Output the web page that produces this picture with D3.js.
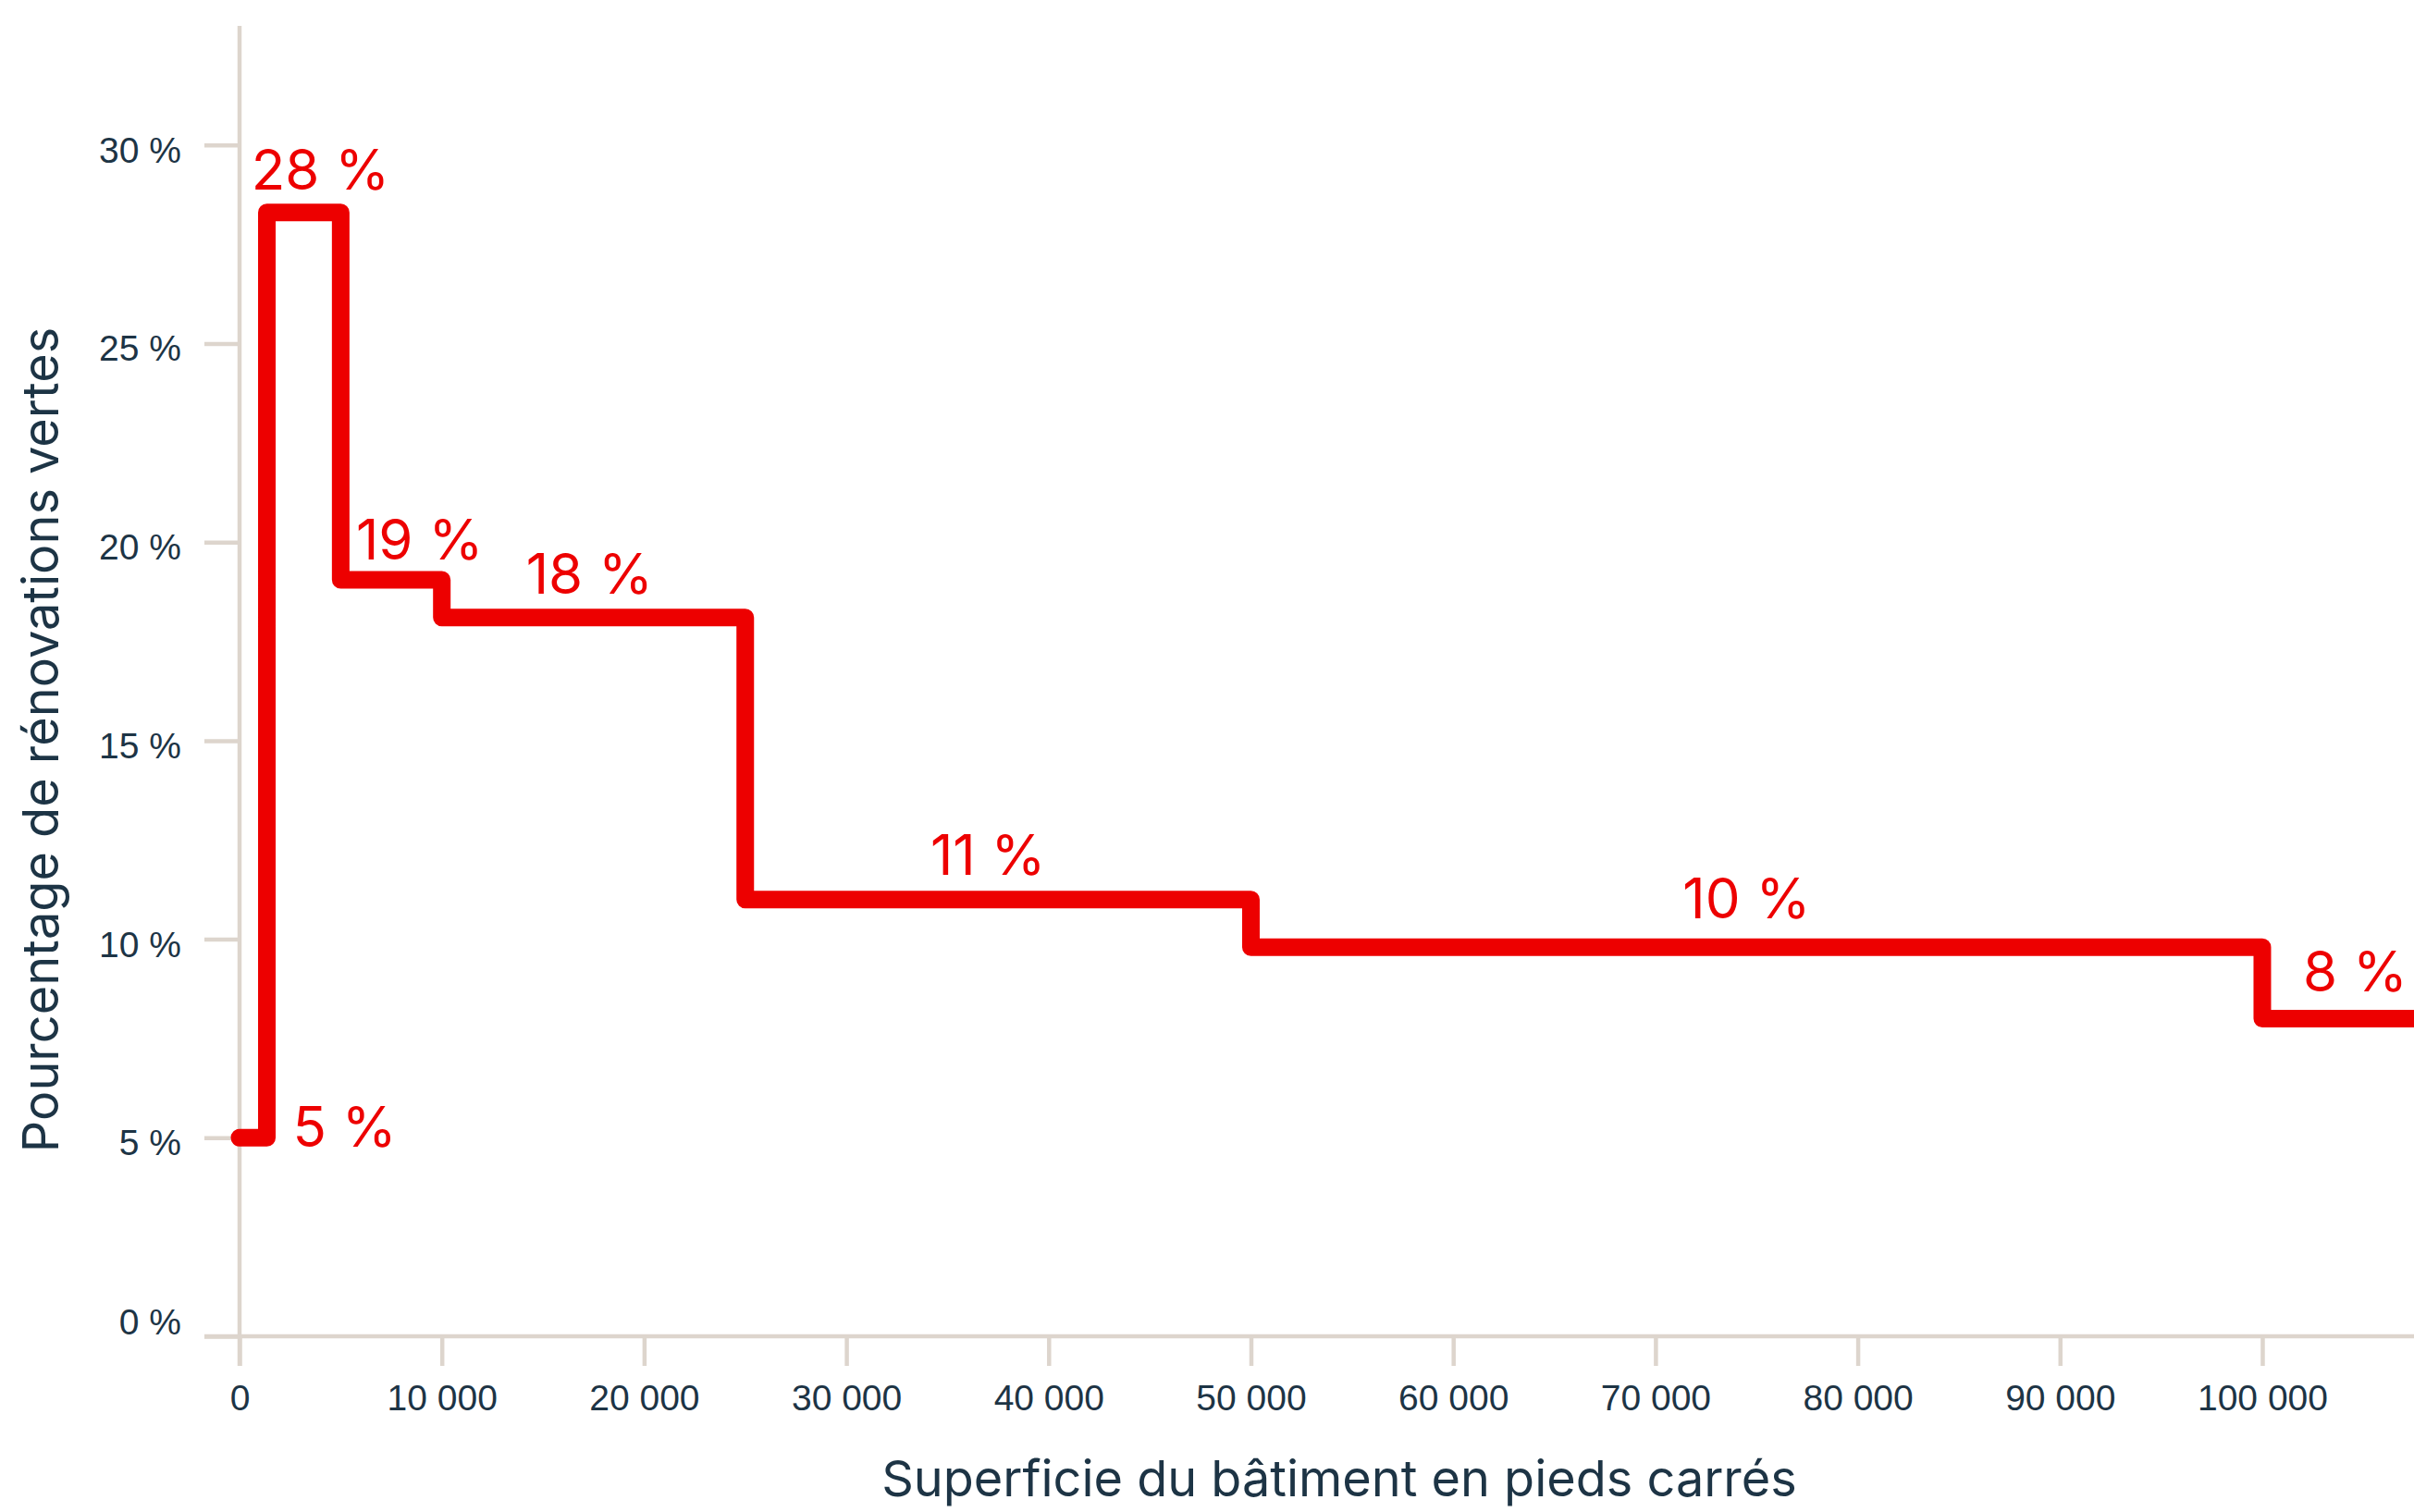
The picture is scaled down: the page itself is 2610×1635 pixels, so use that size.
<!DOCTYPE html>
<html>
<head>
<meta charset="utf-8">
<script src="https://cdn.jsdelivr.net/npm/d3@7"></script>
<style>
  html, body { margin: 0; padding: 0; background: #fff; }
  svg { display: block; font-family: Inter, "Noto Sans", sans-serif; }
  .axis text { fill: #1d3445; font-size: 39px; }
  .axis line { stroke: #ddd5cd; stroke-width: 4.5; }
  .label { fill: #ed0000; font-size: 60px; }
  .title { fill: #1d3445; font-size: 54px; }
</style>
</head>
<body>
<svg></svg>
<script>
var width = 2610;
var height = 1635;

// step starts (square feet) and share of green renovations (%)
var stepStarts = [0, 1350, 5000, 10000, 25000, 50000, 100000];
var stepValues = [5, 28.3, 19.05, 18.1, 11, 9.8, 8];
var stepLabels = ['5 %', '28 %', '19 %', '18 %', '11 %', '10 %', '8 %'];
var xTicks = [0, 10000, 20000, 30000, 40000, 50000, 60000, 70000, 80000, 90000, 100000];
var yTicks = [0, 5, 10, 15, 20, 25, 30];

var margin = {top: 28, right: 0, bottom: 190, left: 259};

var svg = d3.select('svg')
    .attr('width', width)
    .attr('height', height);

var x = d3.scaleLinear()
    .domain([0, 107500])
    .range([margin.left, width - margin.right]);

var y = d3.scaleLinear()
    .domain([0, 33])
    .range([height - margin.bottom, margin.top]);

var fr = d3.formatLocale({decimal: ',', thousands: ' ', grouping: [3], currency: ['', ' $']});
var fmtX = fr.format(',d');

// axes
var tickLen = 38;

var yAxis = svg.append('g')
    .attr('class', 'axis')
    .attr('transform', 'translate(' + margin.left + ',0)')
    .call(d3.axisLeft(y).tickValues(yTicks).tickSize(tickLen).tickPadding(25)
        .tickFormat(function(d) { return d + ' %'; }));
yAxis.select('.domain').remove();
// labels sit a little below their tick, except 0 % which sits above the axis
yAxis.selectAll('.tick text')
    .attr('y', function(d) { return d === 0 ? -15 : 6; });

var xAxis = svg.append('g')
    .attr('class', 'axis')
    .attr('transform', 'translate(0,' + y(0) + ')')
    .call(d3.axisBottom(x).tickValues(xTicks).tickSize(32).tickPadding(20)
        .tickFormat(fmtX));
xAxis.select('.domain').remove();

svg.append('line')
    .attr('x1', x(0)).attr('x2', x(0))
    .attr('y1', margin.top).attr('y2', y(0) + 32)
    .attr('stroke', '#ddd5cd').attr('stroke-width', 4.5);

svg.append('line')
    .attr('x1', x(0) - tickLen).attr('x2', width)
    .attr('y1', y(0)).attr('y2', y(0))
    .attr('stroke', '#ddd5cd').attr('stroke-width', 4.5);

// step line
var pts = stepStarts.map(function(s, i) { return [s, stepValues[i]]; });
pts.push([x.domain()[1], stepValues[stepValues.length - 1]]);

var line = d3.line()
    .x(function(d) { return x(d[0]); })
    .y(function(d) { return y(d[1]); })
    .curve(d3.curveStepAfter);

svg.append('path')
    .datum(pts)
    .attr('d', line)
    .attr('fill', 'none')
    .attr('stroke', '#ed0000')
    .attr('stroke-width', 19)
    .attr('stroke-linejoin', 'round')
    .attr('stroke-linecap', 'round');

// labels: where each label sits along x (square feet), and how far above the step
var labelAt = [null, 4000, 8900, 17300, 37000, 74500, 104600];
var labelRaise = [0, 25, 22, 26, 27, 31, 29];

svg.append('g')
    .selectAll('text')
    .data(stepLabels)
    .enter().append('text')
    .attr('class', 'label')
    .attr('text-anchor', function(d, i) { return i === 0 ? 'start' : 'middle'; })
    .attr('x', function(d, i) { return i === 0 ? x(stepStarts[1]) + 28 : x(labelAt[i]); })
    .attr('y', function(d, i) { return i === 0 ? y(stepValues[0]) + 10 : y(stepValues[i]) - labelRaise[i]; })
    .text(function(d) { return d; });

// axis titles
svg.append('text')
    .attr('class', 'title')
    .attr('text-anchor', 'middle')
    .attr('x', 1448)
    .attr('y', 1618)
    .text('Superficie du bâtiment en pieds carrés');

svg.append('text')
    .attr('class', 'title')
    .attr('text-anchor', 'middle')
    .attr('transform', 'translate(63,800) rotate(-90)')
    .text('Pourcentage de rénovations vertes');
</script>
</body>
</html>
